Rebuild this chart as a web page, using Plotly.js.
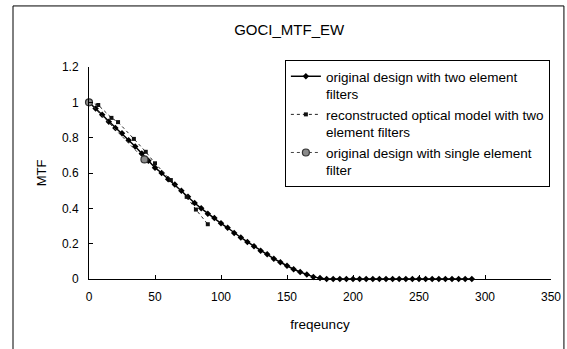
<!DOCTYPE html>
<html>
<head>
<meta charset="utf-8">
<script src="https://cdn.plot.ly/plotly-3.0.1.min.js"></script>
<style>html,body{margin:0;padding:0;background:#fff;}#chart{width:567px;height:349px;}</style>
</head>
<body>
<div id="chart"></div>
<script>
// Series 1: original design with two element filters
const freqTwo = [0,5,10,15,20,25,30,35,40,45,50,55,60,65,70,75,80,85,90,95,100,105,110,115,120,125,130,135,140,145,150,155,160,165,170,175,180,185,190,195,200,205,210,215,220,225,230,235,240,245,250,255,260,265,270,275,280,285,290];
const mtfTwo = [1.0,0.965,0.93,0.89,0.855,0.825,0.785,0.75,0.71,0.67,0.63,0.6,0.565,0.535,0.5,0.465,0.43,0.4,0.37,0.345,0.315,0.29,0.26,0.235,0.21,0.185,0.16,0.14,0.115,0.095,0.075,0.055,0.04,0.025,0.012,0.005,0,0,0,0,0,0,0,0,0,0,0,0,0,0,0,0,0,0,0,0,0,0,0];
// Series 2: reconstructed optical model with two element filters
const freqRecon = [0,7,17,22,34,43,50,62,74,81,90];
const mtfRecon = [1.0,0.985,0.912,0.888,0.793,0.72,0.655,0.56,0.465,0.393,0.31];
// Series 3: original design with single element filter
const freqSingle = [0,42];
const mtfSingle = [1.0,0.677];

const names = [
  'original design with two element<br>filters',
  'reconstructed optical model with two<br>element filters',
  'original design with single element<br>filter'
];
const xTicks = [0,50,100,150,200,250,300,350];
const yTicks = [0,0.2,0.4,0.6,0.8,1,1.2];

const FONT = 'Liberation Sans, Arial, sans-serif';

const traces = [
  {x: freqTwo, y: mtfTwo, name: names[0], type: 'scatter', mode: 'lines+markers', cliponaxis: false,
   line: {color: '#000', width: 1.5}, marker: {symbol: 'diamond', size: 5, color: '#000'}},
  {x: freqRecon, y: mtfRecon, name: names[1], type: 'scatter', mode: 'lines+markers', cliponaxis: false,
   line: {color: '#222', width: 1, dash: 'dot'}, marker: {symbol: 'square', size: 4, color: '#111'}},
  {x: freqSingle, y: mtfSingle, name: names[2], type: 'scatter', mode: 'lines+markers', cliponaxis: false,
   line: {color: '#444', width: 1, dash: 'dot'},
   marker: {symbol: 'circle', size: 7, color: '#8a8a8a', line: {color: '#333', width: 1.2}}}
];

const layout = {
  width: 567, height: 349,
  margin: {l: 89, r: 16, t: 67, b: 70},
  paper_bgcolor: '#fff', plot_bgcolor: '#fff',
  font: {family: FONT, color: '#000', size: 12},
  title: {text: 'GOCI_MTF_EW', font: {family: FONT, size: 15, color: '#000'},
          x: 0.51, xref: 'container', xanchor: 'center', y: 0.914, yref: 'container', yanchor: 'middle'},
  xaxis: {range: [0, 350], tickvals: xTicks, ticktext: xTicks.map(String),
          showgrid: false, zeroline: false, showline: true, linecolor: '#000', linewidth: 1,
          ticks: 'inside', ticklen: 4, tickcolor: '#000', ticklabelstandoff: 7,
          tickfont: {family: FONT, size: 12, color: '#000'},
          title: {text: 'freqeuncy', font: {family: FONT, size: 13.5, color: '#000'}, standoff: 16}},
  yaxis: {range: [0, 1.2], tickvals: yTicks, ticktext: yTicks.map(String),
          showgrid: false, zeroline: false, showline: true, linecolor: '#000', linewidth: 1,
          ticks: 'inside', ticklen: 4, tickcolor: '#000', ticklabelstandoff: 7,
          tickfont: {family: FONT, size: 12, color: '#000'},
          title: {text: 'MTF', font: {family: FONT, size: 13, color: '#000'}, standoff: 12}},
  showlegend: true,
  legend: {x: 0.424, xanchor: 'left', y: 1.033, yanchor: 'top',
           bgcolor: '#fff', bordercolor: '#000', borderwidth: 1,
           font: {family: FONT, size: 13.5, color: '#000'}, valign: 'top', tracegroupgap: 0},
  shapes: [
    {type: 'rect', xref: 'paper', yref: 'paper', x0: -0.1645, x1: 1.028, y0: -0.6, y1: 1.288,
     line: {color: '#000', width: 1}, fillcolor: 'rgba(0,0,0,0)', layer: 'below'}
  ]
};

Plotly.newPlot('chart', traces, layout, {displayModeBar: false, staticPlot: true});
</script>
</body>
</html>
